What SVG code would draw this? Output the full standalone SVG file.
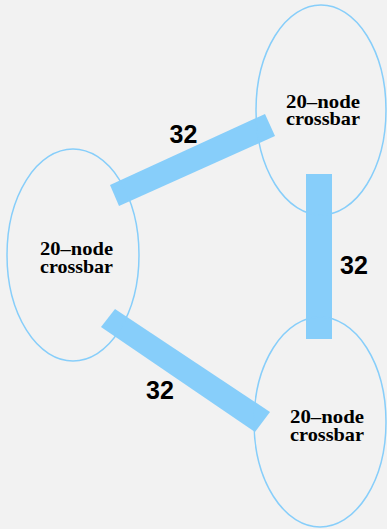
<svg xmlns="http://www.w3.org/2000/svg" width="387" height="529" viewBox="0 0 387 529">
<style>
.node{fill:none;stroke:#87cefa;stroke-width:1.5}
.lbl{font-family:"Liberation Serif","Times New Roman",serif;font-weight:bold;font-size:19px;fill:#000;text-anchor:middle}
.bar{fill:#87cefa}
.num{font-family:"Liberation Sans",Arial,sans-serif;font-weight:bold;font-size:25px;fill:#000;text-anchor:middle}
</style>
<rect width="387" height="529" fill="#f2f2f2"/>
<g id="connectors">
<polygon class="bar" points="110,185 265,114 275,136 119,206"/>
<rect class="bar" x="306" y="174" width="26" height="165"/>
<polygon class="bar" points="115,309 270,412 255,432 101,327"/>
<text class="num" x="183.5" y="143">32</text>
<text class="num" x="354" y="274">32</text>
<text class="num" x="160" y="399">32</text>
</g>
<g id="node-top">
<ellipse class="node" cx="321" cy="110" rx="65" ry="105"/>
<text class="lbl" x="323" y="108" textLength="74" lengthAdjust="spacingAndGlyphs">20–node</text>
<text class="lbl" x="323" y="125" textLength="74" lengthAdjust="spacingAndGlyphs">crossbar</text>
</g>
<g id="node-left">
<ellipse class="node" cx="73" cy="255" rx="66" ry="106"/>
<text class="lbl" x="76.5" y="255" textLength="73" lengthAdjust="spacingAndGlyphs">20–node</text>
<text class="lbl" x="76.5" y="273" textLength="73" lengthAdjust="spacingAndGlyphs">crossbar</text>
</g>
<g id="node-bottom">
<ellipse class="node" cx="320" cy="422" rx="66" ry="105"/>
<text class="lbl" x="327" y="423" textLength="74" lengthAdjust="spacingAndGlyphs">20–node</text>
<text class="lbl" x="327" y="441" textLength="74" lengthAdjust="spacingAndGlyphs">crossbar</text>
</g>
</svg>
